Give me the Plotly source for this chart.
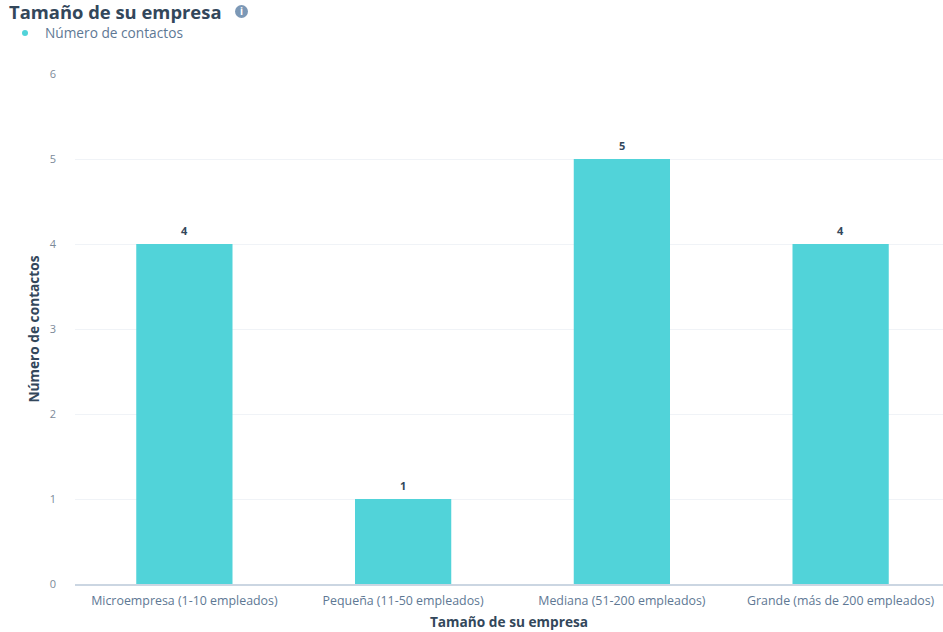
import plotly.graph_objects as go

categories = ["Microempresa (1-10 empleados)", "Pequeña (11-50 empleados)", "Mediana (51-200 empleados)", "Grande (más de 200 empleados)"]
values = [4, 1, 5, 4]
series_name = "Número de contactos"
title = "Tamaño de su empresa"
x_title = "Tamaño de su empresa"
y_title = "Número de contactos"
FONT = "Open Sans"

W, H = 943, 632
L, R, T, B = 75, 943, 74, 584
def px(x): return (x - L) / (R - L)
def py(y): return (B - y) / (B - T)
def cx(x): return x / W
def cy(y): return 1 - y / H

fig = go.Figure()
fig.add_trace(go.Bar(
    x=categories, y=values, name=series_name, marker=dict(color="#51D3D9", line_width=0),
    width=0.44, showlegend=False))
fig.add_trace(go.Scatter(x=[None], y=[None], mode="markers", name=series_name,
                         marker=dict(color="#51D3D9", size=6, symbol="circle"), showlegend=True))

labels = [dict(x=c, y=v, text=f"<b>{v}</b>", xref="x", yref="y", showarrow=False, yanchor="bottom", yshift=4,
               font=dict(family=FONT, size=11, color="#33475B")) for c, v in zip(categories, values)]

fig.update_layout(
    width=W, height=H, autosize=False, paper_bgcolor="white", plot_bgcolor="white",
    margin=dict(l=L, r=0, t=T, b=H - B, autoexpand=False), font=dict(family=FONT, size=12, color="#5E7894"),
    title=dict(text=title, x=cx(9), xanchor="left", y=cy(13), yanchor="middle",
               font=dict(family=FONT, size=18.4, color="#33475B", weight=700)),
    legend=dict(orientation="h", x=cx(5), xref="container", xanchor="left", y=cy(33), yref="container", yanchor="middle",
                font=dict(size=13.7, color="#5E7894"), itemsizing="trace", itemwidth=30),
    xaxis=dict(title=dict(text=x_title, standoff=10, font=dict(size=13.7, color="#33475B", weight=700)),
               range=[-0.5, 3.468], showgrid=False, showline=True, linecolor="#CBD6E2", linewidth=2, ticks="",
               ticklabelstandoff=4, tickfont=dict(size=12.4)),
    yaxis=dict(title=dict(text=y_title, standoff=6, font=dict(size=13.7, color="#33475B", weight=700)),
               range=[0, 6], dtick=1, showgrid=True, gridcolor="#F0F3F7", gridwidth=1, zeroline=False, ticks="",
               ticklabelstandoff=18, tickfont=dict(size=11, color="#7C8A99")),
    shapes=[dict(type="circle", xref="paper", yref="paper", x0=px(235), x1=px(248), y0=py(18), y1=py(5),
                 fillcolor="#7C98B6", line_width=0)],
    annotations=labels + [dict(text="<b>i</b>", xref="paper", yref="paper", x=px(241.5), y=py(11.5),
                      xanchor="center", yanchor="middle", showarrow=False,
                      font=dict(size=10, color="white", family=FONT))],
)
fig.write_html("out.html", config={"displayModeBar": False}, post_script="document.body.style.margin='0';")
